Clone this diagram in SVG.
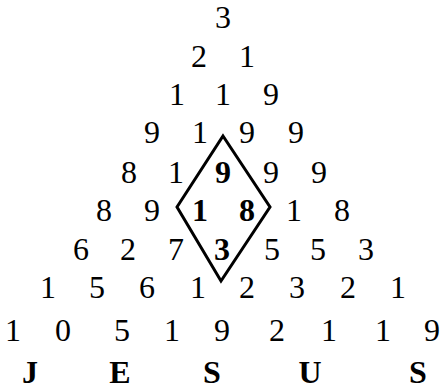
<svg xmlns="http://www.w3.org/2000/svg" width="440" height="391" viewBox="0 0 440 391">
<style>
text{font-family:"Liberation Serif","Times New Roman",serif;font-size:32px;fill:#000;text-anchor:middle}
.b{font-weight:bold}
.l{font-weight:bold;font-size:32px}
</style>
<rect width="440" height="391" fill="#fff"/>
<g id="connectors">
<polygon points="223,136 270,207 221,281 177,207" fill="none" stroke="#000" stroke-width="3" stroke-linejoin="miter"/>
</g>
<g id="row1"><text x="223" y="28">3</text></g>
<g id="row2"><text x="199" y="67">2</text><text x="247" y="67">1</text></g>
<g id="row3"><text x="177" y="105">1</text><text x="223" y="105">1</text><text x="271" y="105">9</text></g>
<g id="row4"><text x="152" y="143">9</text><text x="200" y="143">1</text><text x="247" y="143">9</text><text x="296" y="143">9</text></g>
<g id="row5"><text x="129" y="183">8</text><text x="176" y="183">1</text><text class="b" x="223" y="183">9</text><text x="271" y="183">9</text><text x="319" y="183">9</text></g>
<g id="row6"><text x="104" y="221">8</text><text x="152" y="221">9</text><text class="b" x="200" y="221">1</text><text class="b" x="247" y="221">8</text><text x="294" y="221">1</text><text x="342" y="221">8</text></g>
<g id="row7"><text x="81" y="260">6</text><text x="128" y="260">2</text><text x="176" y="260">7</text><text class="b" x="222" y="260">3</text><text x="272" y="260">5</text><text x="318" y="260">5</text><text x="366" y="260">3</text></g>
<g id="row8"><text x="48" y="298">1</text><text x="97" y="298">5</text><text x="147" y="298">6</text><text x="198" y="298">1</text><text x="247" y="298">2</text><text x="297" y="298">3</text><text x="348" y="298">2</text><text x="398" y="298">1</text></g>
<g id="row9"><text x="13" y="341">1</text><text x="63" y="341">0</text><text x="122" y="341">5</text><text x="172" y="341">1</text><text x="222" y="341">9</text><text x="277" y="341">2</text><text x="329" y="341">1</text><text x="383" y="341">1</text><text x="432" y="341">9</text></g>
<g id="row10"><text class="l" x="30" y="383">J</text><text class="l" x="120" y="383">E</text><text class="l" x="212" y="383">S</text><text class="l" x="310" y="383">U</text><text class="l" x="418" y="383">S</text></g>
</svg>
